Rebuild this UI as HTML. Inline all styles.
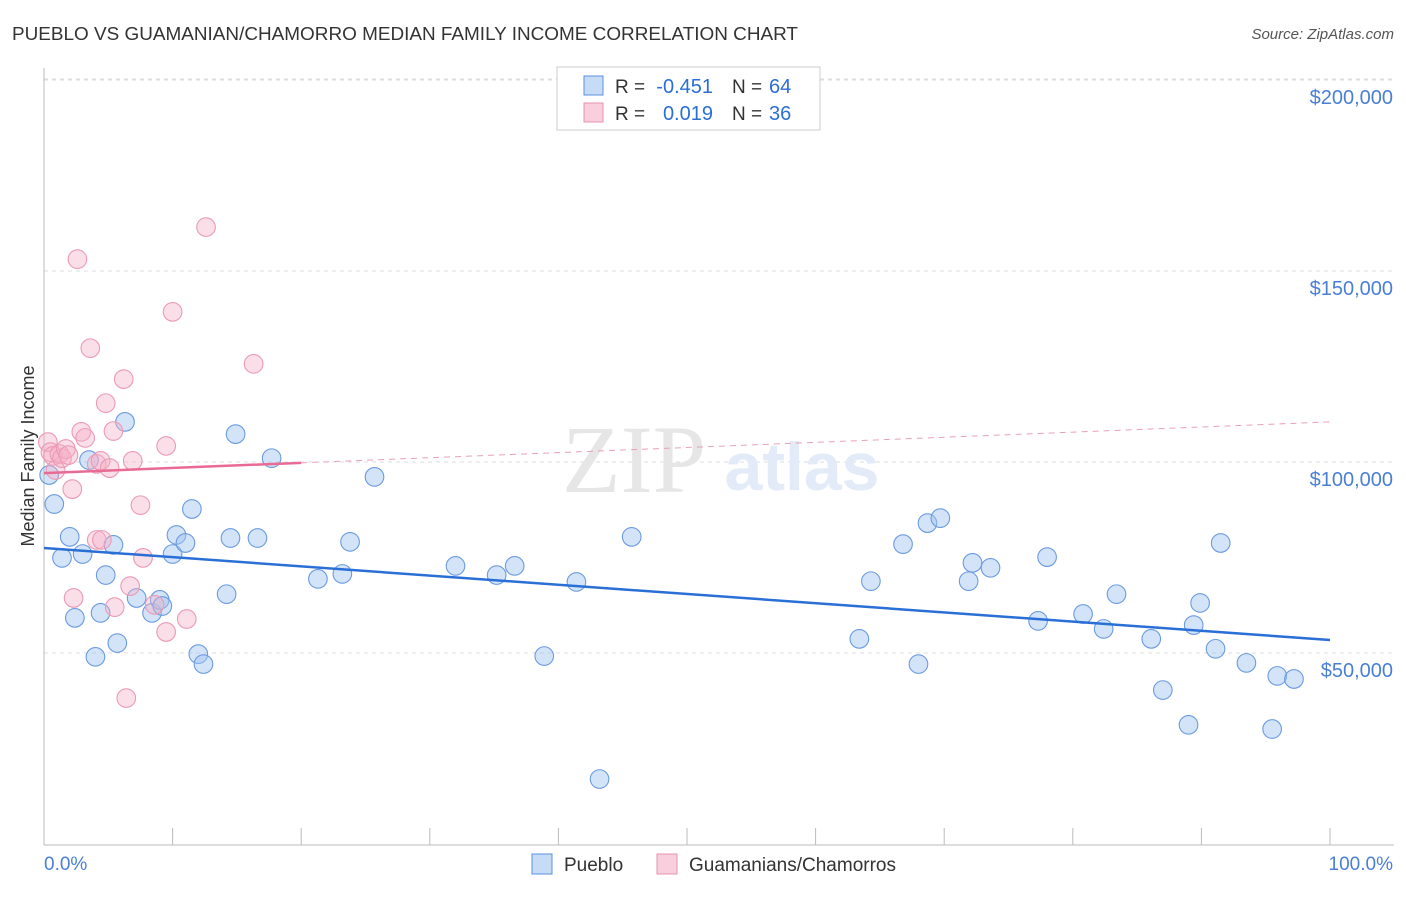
<!DOCTYPE html>
<html><head><meta charset="utf-8"><style>
body{margin:0;background:#fff;font-family:"Liberation Sans",sans-serif;}
#wrap{position:relative;width:1406px;height:892px;}
</style></head><body>
<div id="wrap">
<svg id="svg" width="1406" height="892"></svg>
</div>
<script>
const blueX=[0.4,0.8,1.4,2.0,2.4,3.0,3.5,4.0,4.4,4.8,5.4,5.7,6.3,7.2,8.4,9.0,9.2,10.0,10.3,11.0,11.5,12.0,12.4,14.2,14.5,14.9,16.6,17.7,21.3,23.2,23.8,25.7,32.0,35.2,36.6,38.9,41.4,43.2,45.7,63.4,64.3,66.8,68.0,68.7,69.7,71.9,72.2,73.6,77.3,78.0,80.8,82.4,83.4,86.1,87.0,89.0,89.4,89.9,91.1,91.5,93.5,95.5,95.9,97.2];
const blueY=[96600,89000,74900,80400,59200,75900,100500,49000,60500,70400,78300,52600,110500,64400,60500,63900,62300,75900,80900,78800,87700,49700,47100,65400,80100,107300,80100,101000,69400,70700,79100,96100,72800,70400,72800,49200,68600,17000,80400,53700,68800,78500,47100,84000,85300,68800,73600,72300,58400,75100,60200,56300,65400,53700,40300,31200,57300,63100,51100,78800,47400,30100,44000,43200];
const pinkX=[0.3,0.5,0.7,0.9,1.2,1.4,1.7,1.9,2.2,2.6,2.9,3.2,3.6,4.1,4.4,4.8,5.1,5.4,4.1,4.5,6.2,6.7,5.5,2.3,7.5,7.7,6.9,8.6,9.5,9.5,10.0,11.1,6.4,12.6,16.3];
const pinkY=[105200,102600,101600,97900,102100,101000,103400,101800,92900,153100,107900,106300,129800,99500,100300,115400,98400,108100,79600,79600,121700,67500,62000,64400,88700,74900,100300,62600,55500,104200,139300,58900,38200,161500,125700];
const blueTrend=[77500,53400];
const pinkTrend=[97100,110500];
const yTicks=[50000,100000,150000,200000];
const yTickLabels=["$50,000","$100,000","$150,000","$200,000"];

const NS="http://www.w3.org/2000/svg";
const svg=document.getElementById('svg');
const X=p=>44+p*12.86;
const Y=v=>462-(v-100000)*191/50000;
function mk(tag,attrs,parent){const e=document.createElementNS(NS,tag);for(const k in attrs)e.setAttribute(k,attrs[k]);(parent||svg).appendChild(e);return e;}
function txt(s,attrs){const t=mk('text',attrs);t.textContent=s;return t;}

let t=txt("PUEBLO VS GUAMANIAN/CHAMORRO MEDIAN FAMILY INCOME CORRELATION CHART",{x:12,y:40,'font-size':18,fill:'#333',textLength:786,lengthAdjust:'spacingAndGlyphs'});

t=txt("Source: ZipAtlas.com",{x:1394,y:39,'font-size':15,fill:'#555','text-anchor':'end','font-style':'italic'});


yTicks.forEach((v,i)=>{
 let g=mk('line',{x1:44,x2:1394,y1:Y(v),y2:Y(v),stroke:'#ddd','stroke-dasharray':'4,4'});
 
 let l=txt(yTickLabels[i],{x:1393,y:Y(v)+24,'font-size':20,fill:'#4a7fd6','text-anchor':'end'});
 
});
let gtop=mk('line',{x1:44,x2:1394,y1:79,y2:79,stroke:'#ddd','stroke-dasharray':'4,4'});

let ax=mk('line',{x1:44,x2:44,y1:68,y2:845,stroke:'#bbb'});

ax=mk('line',{x1:44,x2:1394,y1:845,y2:845,stroke:'#bbb'});

for(let i=0;i<=10;i++){let k=mk('line',{x1:X(i*10),x2:X(i*10),y1:828,y2:845,stroke:'#bbb'});
 }
t=txt("0.0%",{x:44,y:870,'font-size':19,fill:'#4a7fd6'});
t=txt("100.0%",{x:1393,y:870,'font-size':19,fill:'#4a7fd6','text-anchor':'end'});
t=txt("Median Family Income",{x:34,y:456,'font-size':18,fill:'#333','text-anchor':'middle',transform:'rotate(-90 34 456)'});

t=txt("ZIP",{x:634,y:492,'font-size':96,fill:'#e6e6e6','text-anchor':'middle','font-family':'Liberation Serif'});

t=txt("atlas",{x:802,y:490,'font-size':68,fill:'#e2ebf7','text-anchor':'middle','font-weight':'bold'});


blueX.forEach((x,i)=>{let c=mk('circle',{cx:X(x),cy:Y(blueY[i]),r:9.3,fill:'rgba(160,196,240,0.45)',stroke:'#6b9be0','stroke-width':1.1});
 });
pinkX.forEach((x,i)=>{let c=mk('circle',{cx:X(x),cy:Y(pinkY[i]),r:9.3,fill:'rgba(245,175,198,0.4)',stroke:'#eb9ab5','stroke-width':1.1});
 });
let tr=mk('line',{x1:X(0),y1:Y(blueTrend[0]),x2:X(100),y2:Y(blueTrend[1]),stroke:'#2a6fd6','stroke-width':2.5});

const pAt=p=>pinkTrend[0]+(pinkTrend[1]-pinkTrend[0])*p/100;
tr=mk('line',{x1:X(0),y1:Y(pinkTrend[0]),x2:X(20),y2:Y(pAt(20)),stroke:'#e86a95','stroke-width':2.5});

tr=mk('line',{x1:X(20),y1:Y(pAt(20)),x2:X(100),y2:Y(pinkTrend[1]),stroke:'#e8a0b8','stroke-width':1,'stroke-dasharray':'6,5'});


let lb=mk('rect',{x:557,y:67,width:263,height:63,fill:'#fff',stroke:'#ccc'});

[[85,'rgba(160,196,240,0.6)','#5b8fde','-0.451','64'],[112,'rgba(245,175,198,0.6)','#e891ae','0.019','36']].forEach(r=>{
 let s=mk('rect',{x:584,y:r[0]-9,width:19,height:19,fill:r[1],stroke:r[2]});
 
 let a=txt("R = ",{x:615,y:r[0]+8,'font-size':19,fill:'#333'});
 a=txt(r[3],{x:713,y:r[0]+8,'font-size':20,fill:'#2a6fd6','text-anchor':'end'});
 a=txt("N = ",{x:732,y:r[0]+8,'font-size':19,fill:'#333'});
 a=txt(r[4],{x:769,y:r[0]+8,'font-size':20,fill:'#2a6fd6'});
});
[[532,'rgba(160,196,240,0.6)','#5b8fde','Pueblo',564],[657,'rgba(245,175,198,0.6)','#e891ae','Guamanians/Chamorros',689]].forEach(r=>{
 let s=mk('rect',{x:r[0],y:854,width:20,height:20,fill:r[1],stroke:r[2]});
 
 let a=txt(r[3],{x:r[4],y:871,'font-size':19,fill:'#333'});
});
</script>
</body></html>
